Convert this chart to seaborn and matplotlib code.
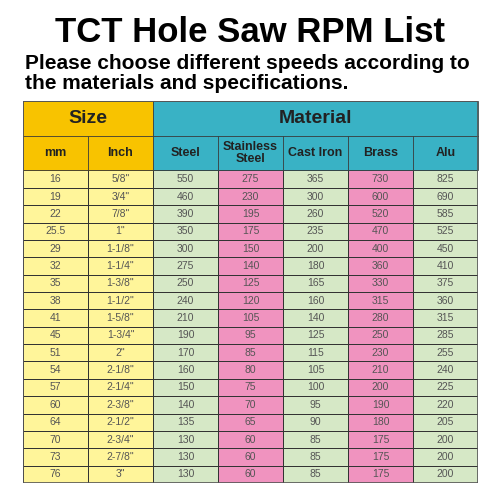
import numpy as np
import pandas as pd
import matplotlib
matplotlib.use("Agg")
import matplotlib.pyplot as plt
from matplotlib.colors import ListedColormap
from matplotlib.patches import Rectangle
import seaborn as sns

# ---------------------------------------------------------------------------
# Data
# ---------------------------------------------------------------------------
mm = ["16", "19", "22", "25.5", "29", "32", "35", "38", "41", "45", "51",
      "54", "57", "60", "64", "70", "73", "76"]
inch = ['5/8"', '3/4"', '7/8"', '1"', '1-1/8"', '1-1/4"', '1-3/8"', '1-1/2"',
        '1-5/8"', '1-3/4"', '2"', '2-1/8"', '2-1/4"', '2-3/8"', '2-1/2"',
        '2-3/4"', '2-7/8"', '3"']
steel = [550, 460, 390, 350, 300, 275, 250, 240, 210, 190, 170, 160, 150, 140, 135, 130, 130, 130]
stainless = [275, 230, 195, 175, 150, 140, 125, 120, 105, 95, 85, 80, 75, 70, 65, 60, 60, 60]
cast_iron = [365, 300, 260, 235, 200, 180, 165, 160, 140, 125, 115, 105, 100, 95, 90, 85, 85, 85]
brass = [730, 600, 520, 470, 400, 360, 330, 315, 280, 250, 230, 210, 200, 190, 180, 175, 175, 175]
alu = [825, 690, 585, 525, 450, 410, 375, 360, 315, 285, 255, 240, 225, 220, 205, 200, 200, 200]

sub_headers = ["mm", "Inch", "Steel", "Stainless\nSteel", "Cast Iron", "Brass", "Alu"]
col_kind = [0, 0, 1, 2, 1, 2, 1]   # 0 yellow, 1 green, 2 pink

YELLOW, GREEN, PINK = "#fff59a", "#d6e8c6", "#f093bf"
ORANGE, TEAL, LINE = "#f8c300", "#39b2c5", "#333333"

df = pd.DataFrame({"mm": mm, "Inch": inch, "Steel": steel, "Stainless": stainless,
                   "Cast Iron": cast_iron, "Brass": brass, "Alu": alu})
labels = df.astype(str).values
kinds = np.tile(col_kind, (len(df), 1))

fig = plt.figure(figsize=(5, 5), dpi=100)
plt.rcParams["font.family"] = ["Liberation Sans", "DejaVu Sans"]

fig.text(0.5, 0.935, "TCT Hole Saw RPM List", ha="center", va="center",
         fontsize=25, fontweight="bold", color="black")
fig.text(0.05, 0.853, "Please choose different speeds according to\nthe materials and specifications.",
         ha="left", va="center", fontsize=15, fontweight="bold", color="black",
         linespacing=1.05)

ax = fig.add_axes([23 / 500, 17 / 500, 455 / 500, 382 / 500])
sns.heatmap(kinds, cmap=ListedColormap([YELLOW, GREEN, PINK]), vmin=0, vmax=2,
            annot=labels, fmt="", cbar=False, linewidths=0.5, linecolor=LINE,
            annot_kws={"fontsize": 7.5, "color": "#555555"}, ax=ax)
ax.set_ylim(len(df), -4)
ax.set_xticks([])
ax.set_yticks([])

# header cells
ax.add_patch(Rectangle((0, -4), 2, 2, facecolor=ORANGE, edgecolor=LINE, lw=0.5, clip_on=False))
ax.add_patch(Rectangle((2, -4), 5, 2, facecolor=TEAL, edgecolor=LINE, lw=0.5, clip_on=False))
ax.text(1, -3, "Size", ha="center", va="center", fontsize=14, fontweight="bold", color="#222222")
ax.text(4.5, -3, "Material", ha="center", va="center", fontsize=14, fontweight="bold", color="#222222")
for i, h in enumerate(sub_headers):
    ax.add_patch(Rectangle((i, -2), 1, 2, facecolor=ORANGE if i < 2 else TEAL,
                           edgecolor=LINE, lw=0.5, clip_on=False))
    ax.text(i + 0.5, -1, h, ha="center", va="center", fontsize=9, fontweight="bold",
            color="#222222", linespacing=1.0)
ax.add_patch(Rectangle((0, -4), 7, len(df) + 4, fill=False, edgecolor="#555555", lw=1.2))

fig.savefig("out.png", dpi=100)
